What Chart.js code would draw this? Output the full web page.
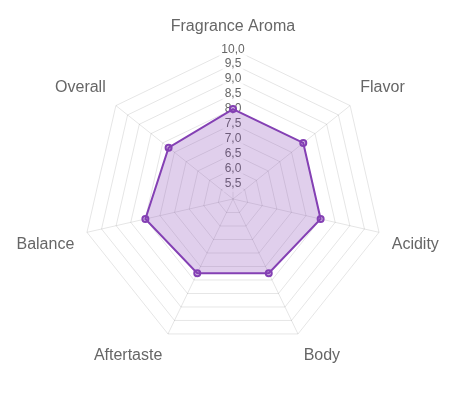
<!DOCTYPE html>
<html lang="en">
<head>
    <meta charset="UTF-8">
    <title>Cupping Radar</title>
    <script src="https://cdn.jsdelivr.net/npm/chart.js"></script>
    <style>
        body {
            margin: 0;
            background-color: #ffffff;
        }
        .wrap {
            width: 459px;
            height: 397px;
        }
    </style>
</head>
<body>
    <div class="wrap">
        <canvas id="graficoRadar"></canvas>
    </div>

    <script>
        // Atributos y puntuaciones
        const atributos = ['Fragrance Aroma', 'Flavor', 'Acidity', 'Body', 'Aftertaste', 'Balance', 'Overall'];
        const puntuaciones = [8.0, 8.0, 8.0, 7.75, 7.75, 8.0, 7.75];
        const escalaMin = 5;
        const escalaMax = 10;
        const paso = 0.5;

        Chart.defaults.font.family = '"Liberation Sans", Arial, sans-serif';
        Chart.defaults.color = '#666';

        const ctx = document.getElementById('graficoRadar').getContext('2d');
        new Chart(ctx, {
            type: 'radar',
            data: {
                labels: atributos,
                datasets: [{
                    label: 'Score',
                    data: puntuaciones,
                    borderColor: 'rgba(132, 64, 180, 1)',
                    backgroundColor: 'rgba(132, 64, 180, 0.25)',
                    pointBackgroundColor: 'rgba(132, 64, 180, 0.3)',
                    pointBorderColor: 'rgba(132, 64, 180, 1)',
                    borderWidth: 2,
                    pointRadius: 3,
                    pointBorderWidth: 2
                }]
            },
            options: {
                responsive: true,
                maintainAspectRatio: false,
                animation: false,
                layout: {
                    padding: { top: 8, bottom: 24, left: 2, right: 5 }
                },
                plugins: {
                    legend: { display: false },
                    tooltip: { enabled: false }
                },
                scales: {
                    r: {
                        min: escalaMin,
                        max: escalaMax,
                        ticks: {
                            stepSize: paso,
                            color: '#666',
                            font: { size: 12 },
                            callback: v => v.toFixed(1).replace('.', ',')
                        },
                        pointLabels: {
                            color: '#666',
                            font: { size: 16 }
                        },
                        grid: { color: 'rgba(0, 0, 0, 0.1)' },
                        angleLines: { color: 'rgba(0, 0, 0, 0.1)' }
                    }
                }
            }
        });
    </script>
</body>
</html>
